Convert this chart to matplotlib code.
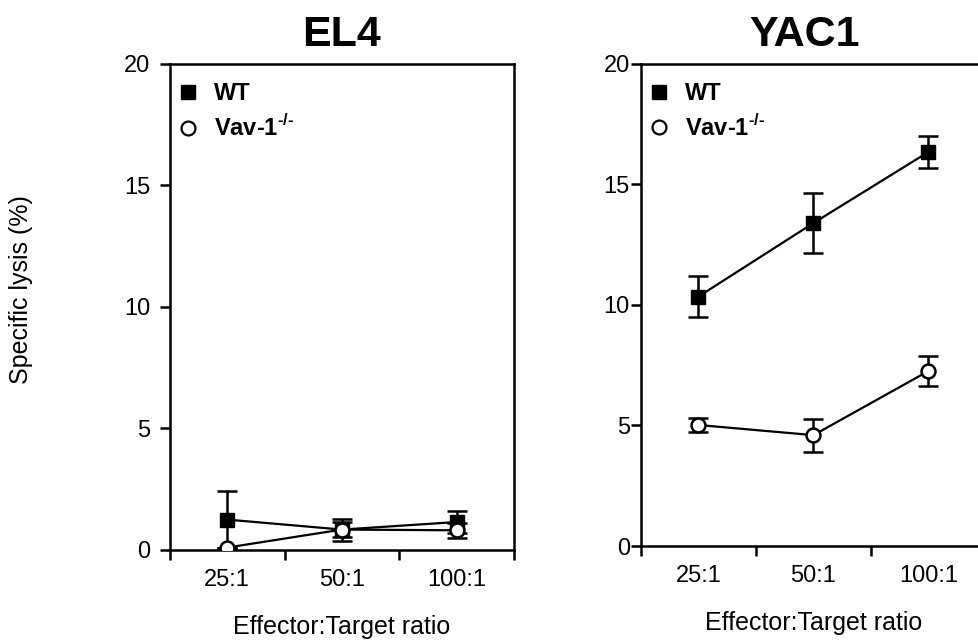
import matplotlib
matplotlib.use('Agg')
import matplotlib.pyplot as plt
from matplotlib.ticker import FixedLocator
from matplotlib.lines import Line2D

plt.rcParams['font.family'] = ['Liberation Sans', 'DejaVu Sans']
plt.rcParams['mathtext.fontset'] = 'custom'
plt.rcParams['mathtext.rm'] = 'Liberation Sans'
plt.rcParams['mathtext.bf'] = 'Liberation Sans:bold'

ratios = ['25:1', '50:1', '100:1']

# EL4 targets
el4_wt = [1.25, 0.84, 1.15]
el4_wt_err = [1.18, 0.45, 0.44]
el4_vav = [0.1, 0.84, 0.81]
el4_vav_err = [0.0, 0.3, 0.3]

# YAC1 targets
yac_wt = [10.35, 13.4, 16.35]
yac_wt_err = [0.85, 1.25, 0.68]
yac_vav = [5.02, 4.6, 7.26]
yac_vav_err = [0.3, 0.68, 0.62]

panels = [
  ('EL4', el4_wt, el4_wt_err, el4_vav, el4_vav_err, [0.1736, 0.142, 0.3514, 0.7582], 7, 0.5),
  ('YAC1', yac_wt, yac_wt_err, yac_vav, yac_vav_err, [0.6547, 0.1482, 0.3524, 0.752], 1, 0.475),
]

fig = plt.figure(figsize=(9.79, 6.41), dpi=100)
x = list(range(len(ratios)))

for title, wt, wt_err, vav, vav_err, pos, ypad, tx in panels:
  ax = fig.add_axes(pos)
  ax.errorbar(x, wt, yerr=wt_err, color='black', marker='s', markersize=10.5,
              linewidth=1.6, elinewidth=1.8, capsize=7, capthick=1.8,
              markerfacecolor='black', zorder=3)
  ax.errorbar(x, vav, yerr=vav_err, color='black', marker='o', markersize=10,
              linewidth=1.6, elinewidth=1.8, capsize=7, capthick=1.8,
              markerfacecolor='white', markeredgewidth=1.8, zorder=4)
  ax.set_xlim(-0.5, 2.5)
  ax.set_ylim(0, 20)
  ax.set_yticks([0, 5, 10, 15, 20])
  ax.set_xticks(x)
  ax.set_xticklabels(ratios)
  ax.xaxis.set_minor_locator(FixedLocator([-0.5, 0.5, 1.5, 2.5]))
  ax.tick_params(axis='x', which='major', length=0, pad=14, labelsize=17)
  ax.tick_params(axis='x', which='minor', length=7, width=1.8, direction='out')
  ax.tick_params(axis='y', length=7, width=1.8, direction='out', labelsize=17, pad=ypad)
  for s in ax.spines.values():
    s.set_linewidth(1.8)
  ax.set_xlabel('Effector:Target ratio', fontsize=18, labelpad=17)
  ax.set_title(title, fontsize=31, fontweight='bold', pad=13, x=tx)
  handles = [
    Line2D([], [], linestyle='none', marker='s', markersize=10.5, color='black'),
    Line2D([], [], linestyle='none', marker='o', markersize=10, color='black',
           markerfacecolor='white', markeredgewidth=1.6),
  ]
  labels = ['WT', 'Vav-1$^{\\mathbf{\u2010/\u2010}}$']
  ax.legend(handles, labels, loc='upper left', bbox_to_anchor=(0.0, 0.98),
            frameon=False, prop={'weight': 'bold', 'size': 17},
            handletextpad=0.7, labelspacing=0.4, borderaxespad=0.05,
            borderpad=0.3, handlelength=0.8)

fig.text(0.021, 0.548, 'Specific lysis (%)', rotation=90, fontsize=18,
         ha='center', va='center')

plt.savefig('out.png', dpi=100)
